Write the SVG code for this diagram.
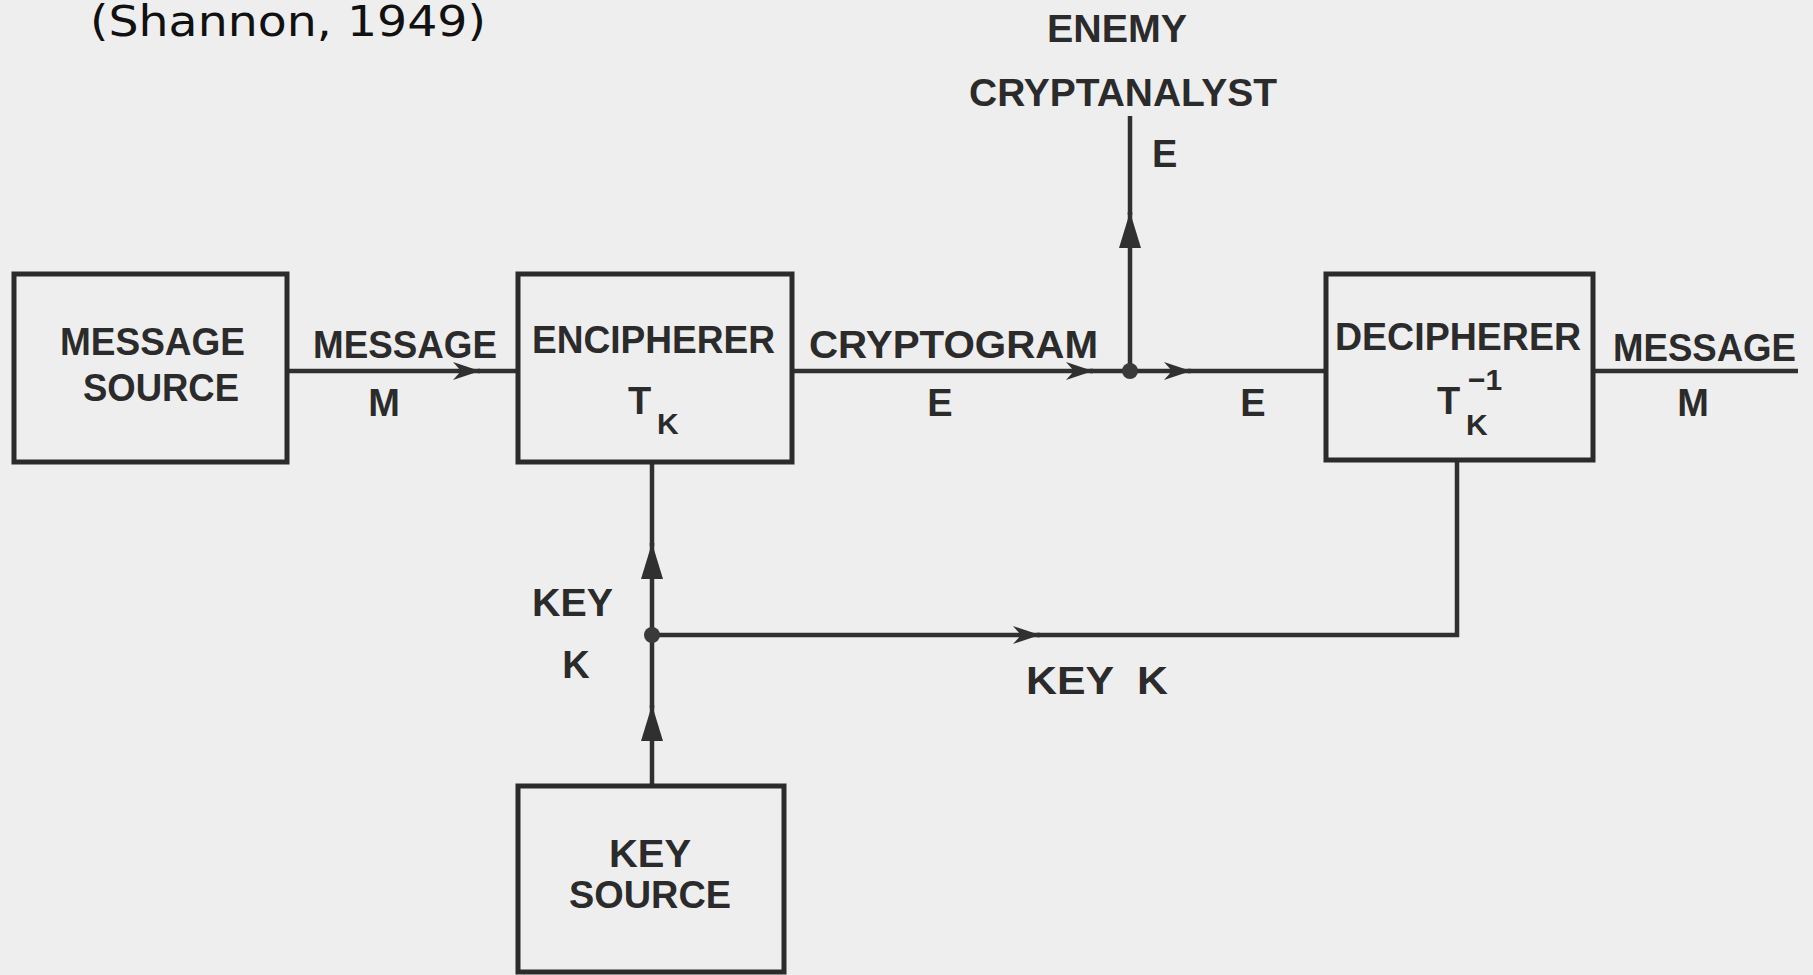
<svg xmlns="http://www.w3.org/2000/svg" width="1813" height="975" viewBox="0 0 1813 975">
<defs>
<style>
.bg{fill:#eeeeee}
.box{fill:none;stroke:#2b2b2b;stroke-width:5}
.ln{fill:none;stroke:#303030;stroke-width:4.5}
.t{font-family:"Liberation Sans",Arial,sans-serif;font-weight:bold;font-size:38px;fill:#2b2b2b}
.sub{font-size:30px}
.c{font-family:"DejaVu Sans",sans-serif;font-size:42px;fill:#111}
.dot{fill:#3a3a3a}
</style>
<marker id="barb" markerUnits="userSpaceOnUse" viewBox="-30 -12 32 24" refX="0" refY="0" markerWidth="32" markerHeight="24" orient="auto">
<path d="M0,0 L-27,-9 L-19,0 L-27,9 z" fill="#303030"/>
</marker>
<marker id="tri" markerUnits="userSpaceOnUse" viewBox="-40 -14 42 28" refX="0" refY="0" markerWidth="42" markerHeight="28" orient="auto">
<path d="M0,0 L-36,-11 L-36,11 z" fill="#303030"/>
</marker>
</defs>
<rect class="bg" x="0" y="0" width="1813" height="975"/>
<text class="c" x="90" y="36" textLength="396" lengthAdjust="spacingAndGlyphs">(Shannon, 1949)</text>

<g id="connectors">
<path class="ln" d="M287,371 L480,371" marker-end="url(#barb)"/>
<path class="ln" d="M478,371 L518,371"/>
<path class="ln" d="M792,371 L1093,371" marker-end="url(#barb)"/>
<path class="ln" d="M1090,371 L1191,371" marker-end="url(#barb)"/>
<path class="ln" d="M1188,371 L1326,371"/>
<path class="ln" d="M1593,371 L1798,371"/>
<path class="ln" d="M1130,371 L1130,212" marker-end="url(#tri)"/>
<path class="ln" d="M1130,215 L1130,116"/>
<path class="ln" d="M652,786 L652,705" marker-end="url(#tri)"/>
<path class="ln" d="M652,708 L652,543" marker-end="url(#tri)"/>
<path class="ln" d="M652,546 L652,462"/>
<path class="ln" d="M652,635 L1040,635" marker-end="url(#barb)"/>
<path class="ln" d="M1037,635 L1457,635 L1457,460"/>
<circle class="dot" cx="1130" cy="371" r="8"/>
<circle class="dot" cx="652" cy="635" r="8"/>
<text class="t" x="313" y="358" textLength="184" lengthAdjust="spacingAndGlyphs">MESSAGE</text>
<text class="t" x="384" y="416" text-anchor="middle">M</text>
<text class="t" x="809" y="358" textLength="289" lengthAdjust="spacingAndGlyphs">CRYPTOGRAM</text>
<text class="t" x="940" y="416" text-anchor="middle">E</text>
<text class="t" x="1253" y="416" text-anchor="middle">E</text>
<text class="t" x="1613" y="361" textLength="183" lengthAdjust="spacingAndGlyphs">MESSAGE</text>
<text class="t" x="1693" y="416" text-anchor="middle">M</text>
<text class="t" x="1152" y="167">E</text>
<text class="t" x="532" y="616" textLength="81" lengthAdjust="spacingAndGlyphs">KEY</text>
<text class="t" x="576" y="678" text-anchor="middle">K</text>
<text class="t" x="1026" y="694" textLength="142" lengthAdjust="spacingAndGlyphs" xml:space="preserve">KEY  K</text>
</g>

<g id="enemy">
<text class="t" x="1117" y="42" text-anchor="middle" textLength="140" lengthAdjust="spacingAndGlyphs">ENEMY</text>
<text class="t" x="1123" y="106" text-anchor="middle" textLength="308" lengthAdjust="spacingAndGlyphs">CRYPTANALYST</text>
</g>

<g id="message-source">
<rect class="box" x="14" y="274" width="273" height="188"/>
<text class="t" x="60" y="355" textLength="185" lengthAdjust="spacingAndGlyphs">MESSAGE</text>
<text class="t" x="83" y="401" textLength="156" lengthAdjust="spacingAndGlyphs">SOURCE</text>
</g>

<g id="encipherer">
<rect class="box" x="518" y="274" width="274" height="188"/>
<text class="t" x="532" y="353" textLength="243" lengthAdjust="spacingAndGlyphs">ENCIPHERER</text>
<text class="t" x="628" y="414">T</text>
<text class="t sub" x="657" y="434">K</text>
</g>

<g id="decipherer">
<rect class="box" x="1326" y="274" width="267" height="186"/>
<text class="t" x="1335" y="350" textLength="246" lengthAdjust="spacingAndGlyphs">DECIPHERER</text>
<text class="t" x="1437" y="414">T</text>
<text class="t sub" x="1466" y="435">K</text>
<text class="t sub" x="1468" y="390">−1</text>
</g>

<g id="key-source">
<rect class="box" x="518" y="786" width="266" height="186"/>
<text class="t" x="609" y="867" textLength="82" lengthAdjust="spacingAndGlyphs">KEY</text>
<text class="t" x="569" y="908" textLength="162" lengthAdjust="spacingAndGlyphs">SOURCE</text>
</g>
</svg>
